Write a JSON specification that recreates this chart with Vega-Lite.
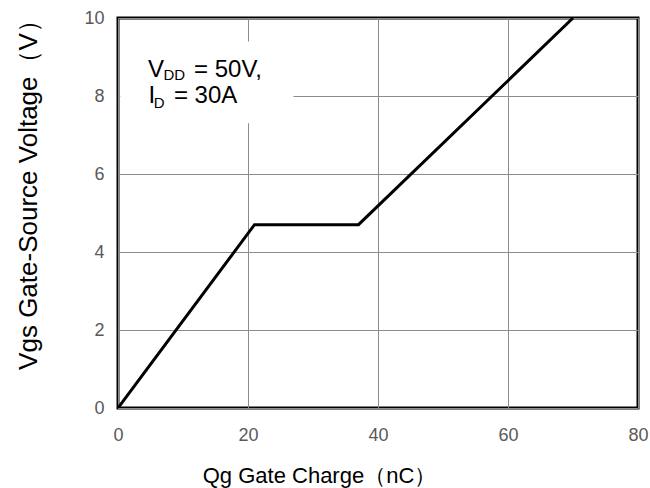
{
  "$schema": "https://vega.github.io/schema/vega-lite/v6.json",
  "width": 520,
  "height": 390,
  "autosize": {"type": "none"},
  "padding": {"left": 118, "top": 18, "right": 12, "bottom": 80},
  "background": "white",
  "config": {
    "font": "Liberation Sans",
    "view": {"stroke": "black", "strokeWidth": 3},
    "axis": {
      "grid": true,
      "gridColor": "#8c8c8c",
      "gridWidth": 1,
      "gridOpacity": 1,
      "domain": false,
      "ticks": false,
      "labelFlush": false,
      "labelFont": "Liberation Sans",
      "labelFontSize": 18,
      "labelColor": "#595959",
      "titleFont": "Liberation Sans",
      "titleFontSize": 22,
      "titleFontWeight": "normal",
      "titleColor": "#000000"
    }
  },
  "datasets": {
    "curve": [
      {"q": 0, "v": 0},
      {"q": 21, "v": 4.7},
      {"q": 37, "v": 4.7},
      {"q": 70, "v": 10}
    ],
    "box": [{"x1": 0.35, "x2": 27, "y1": 7.3, "y2": 9.4}],
    "mainText": [
      {"x": 4.6, "y": 8.49, "t": "V"},
      {"x": 11.7, "y": 8.49, "t": "= 50V,"},
      {"x": 4.7, "y": 7.82, "t": "I"},
      {"x": 8.6, "y": 7.82, "t": "= 30A"}
    ],
    "subText": [
      {"x": 7.0, "y": 8.41, "t": "DD"},
      {"x": 5.5, "y": 7.69, "t": "D"}
    ]
  },
  "layer": [
    {
      "data": {"name": "box"},
      "mark": {"type": "rect", "fill": "white", "stroke": null},
      "encoding": {
        "x": {"field": "x1", "type": "quantitative", "scale": {"domain": [0, 80], "nice": false}, "axis": {"values": [0, 20, 40, 60, 80], "title": "Qg Gate Charge（nC）", "labelPadding": 18, "titleX": 201, "titleY": 74, "titleAlign": "center", "titleBaseline": "alphabetic"}},
        "x2": {"field": "x2"},
        "y": {"field": "y1", "type": "quantitative", "scale": {"domain": [0, 10], "nice": false}, "axis": {"values": [0, 2, 4, 6, 8, 10], "title": "Vgs Gate-Source Voltage（V）", "labelPadding": 14, "titleFontSize": 26, "titleX": -82, "titleY": 170, "titleAngle": -90, "titleAlign": "center", "titleBaseline": "alphabetic"}},
        "y2": {"field": "y2"}
      }
    },
    {
      "data": {"name": "curve"},
      "mark": {"type": "line", "color": "black", "strokeWidth": 3, "clip": true},
      "encoding": {
        "x": {"field": "q", "type": "quantitative"},
        "y": {"field": "v", "type": "quantitative"}
      }
    },
    {
      "data": {"name": "mainText"},
      "mark": {"type": "text", "align": "left", "baseline": "alphabetic", "fontSize": 24, "color": "black", "font": "Liberation Sans"},
      "encoding": {
        "x": {"field": "x", "type": "quantitative"},
        "y": {"field": "y", "type": "quantitative"},
        "text": {"field": "t"}
      }
    },
    {
      "data": {"name": "subText"},
      "mark": {"type": "text", "align": "left", "baseline": "alphabetic", "fontSize": 15, "color": "black", "font": "Liberation Sans"},
      "encoding": {
        "x": {"field": "x", "type": "quantitative"},
        "y": {"field": "y", "type": "quantitative"},
        "text": {"field": "t"}
      }
    }
  ]
}
